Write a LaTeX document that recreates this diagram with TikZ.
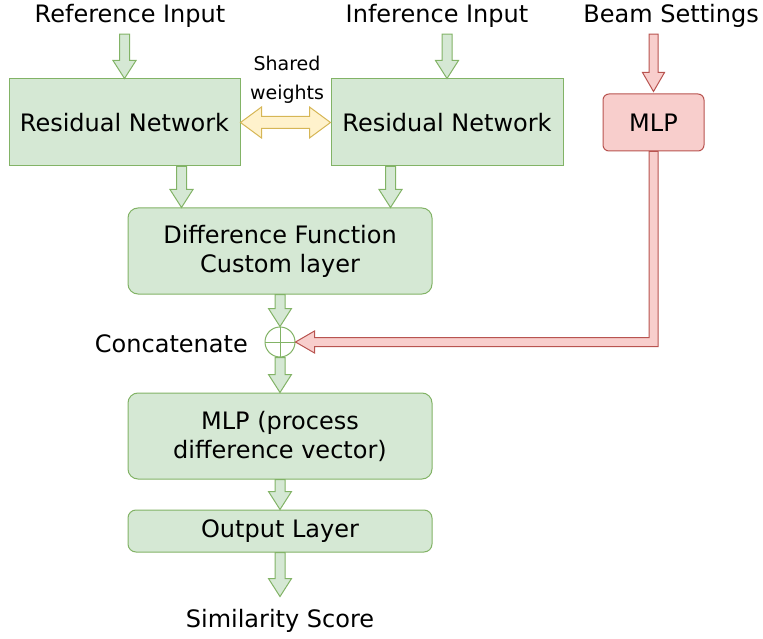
\documentclass[tikz,border=0pt]{standalone}
\usepackage{fontspec}
\setmainfont{DejaVu Sans}
\usetikzlibrary{calc}
\usetikzlibrary{positioning}
\definecolor{gfill}{HTML}{D5E8D4}
\definecolor{gline}{HTML}{82B366}
\definecolor{rfill}{HTML}{F8CECC}
\definecolor{rline}{HTML}{B85450}
\definecolor{yfill}{HTML}{FFF2CC}
\definecolor{yline}{HTML}{D6B656}
\tikzset{
  lbl/.style = {font = \fontsize{24}{29}\selectfont, align = center, inner sep = 0},
  gbox/.style = {lbl, draw = gline, fill = gfill, line width = 1pt},
  rbox/.style = {lbl, draw = rline, fill = rfill, line width = 1pt, rounded corners = 6pt},
  garrow/.style = {draw = gline, fill = gfill, line width = 1pt},
  rarrow/.style = {draw = rline, fill = rfill, line width = 1pt},
  yarrow/.style = {draw = yline, fill = yfill, line width = 1pt},
  down arrow/.style = {
    to path = {let \p1 = (\tikztostart), \p2 = (\tikztotarget) in
      (\x2-5pt,\y1) -- (\x2-5pt,\y2+18pt) -- (\x2-11.5pt,\y2+18pt) -- (\x2,\y2)
      -- (\x2+11.5pt,\y2+18pt) -- (\x2+5pt,\y2+18pt) -- (\x2+5pt,\y1) -- cycle}},
  both arrow/.style = {
    to path = {let \p1 = (\tikztostart), \p2 = (\tikztotarget) in
      (\x1,\y1) -- (\x1+21pt,\y1+15.5pt) -- (\x1+21pt,\y1+6pt) -- (\x2-21pt,\y1+6pt)
      -- (\x2-21pt,\y1+15.5pt) -- (\x2,\y1) -- (\x2-21pt,\y1-15.5pt) -- (\x2-21pt,\y1-6pt)
      -- (\x1+21pt,\y1-6pt) -- (\x1+21pt,\y1-15.5pt) -- cycle}},
  elbow arrow/.style = {
    to path = {let \p1 = (\tikztostart), \p2 = (\tikztotarget) in
      (\x1-4.5pt,\y1) -- (\x1-4.5pt,\y2+4.5pt) -- (\x2+19pt,\y2+4.5pt) -- (\x2+19pt,\y2+11pt)
      -- (\x2,\y2) -- (\x2+19pt,\y2-11pt) -- (\x2+19pt,\y2-4.5pt) -- (\x1+4.5pt,\y2-4.5pt)
      -- (\x1+4.5pt,\y1) -- cycle}},
  rdown arrow/.style = {
    to path = {let \p1 = (\tikztostart), \p2 = (\tikztotarget) in
      (\x2-4.5pt,\y1) -- (\x2-4.5pt,\y2+19pt) -- (\x2-11pt,\y2+19pt) -- (\x2,\y2)
      -- (\x2+11pt,\y2+19pt) -- (\x2+4.5pt,\y2+19pt) -- (\x2+4.5pt,\y1) -- cycle}}
}

\begin{document}
\begin{tikzpicture}[x = 1pt, y = -1pt]
  \useasboundingbox (0, 0) rectangle (763, 639);

  % inputs
  \node [lbl, anchor = base] (refin) at (130, 23) {Reference Input};
  \node [lbl, anchor = base] (infin) at (437, 23) {Inference Input};
  \node [lbl, anchor = base east] (beamin) at (759, 23) {Beam Settings};

  % twin networks
  \node [gbox, minimum width = 231pt, minimum height = 87pt] (res1) at (124.5, 122.5) {Residual Network};
  \node [gbox, minimum width = 232pt, minimum height = 87pt] (res2) at (447, 122.5) {Residual Network};
  \node [rbox, minimum width = 101pt, minimum height = 57pt] (mlp1) at (653.5, 122.5) {MLP};
  \node [lbl, font = \fontsize{19}{29}\selectfont] (shared) at (287, 80) {Shared\\weights};

  % main column
  \node [gbox, rounded corners = 10pt, minimum width = 304pt, minimum height = 86pt] (diff) at (280, 251)
    {Difference Function\\Custom layer};
  \node [circle, draw = gline, fill = white, line width = 1pt, minimum size = 30pt, inner sep = 0] (concat) at (280, 342) {};
  \node [lbl, anchor = base east] (catlbl) at (248, 352) {Concatenate};
  \node [gbox, rounded corners = 10pt, minimum width = 304pt, minimum height = 86pt] (mlp2) at (280, 436)
    {MLP (process\\difference vector)};
  \node [gbox, rounded corners = 8pt, minimum width = 304pt, minimum height = 42pt] (out) at (280, 531) {Output Layer};
  \node [lbl, anchor = base] (score) at (280, 627) {Similarity Score};

  \draw [gline, line width = 1pt] (concat.north) -- (concat.south) (concat.west) -- (concat.east);

  \coordinate (d1) at ([xshift = 54pt] diff.north west);
  \coordinate (d2) at ([xshift = 263pt] diff.north west);

  % connectors
  \draw [garrow] ([yshift = -6pt] refin.south -| res1.north) to [down arrow] (res1.north);
  \draw [garrow] ([yshift = -6pt] infin.south -| res2.north) to [down arrow] (res2.north);
  \draw [rarrow] ([yshift = -6pt] beamin.south -| mlp1.north) to [rdown arrow] ([yshift = 2pt] mlp1.north);
  \draw [yarrow] (res1.east) to [both arrow] (res2.west);
  \draw [garrow] (res1.south -| d1) to [down arrow] (d1);
  \draw [garrow] (res2.south -| d2) to [down arrow] (d2);
  \draw [garrow] (diff.south) to [down arrow] (concat.north);
  \draw [rarrow] (mlp1.south) to [elbow arrow] (concat.east);
  \draw [garrow] (concat.south) to [down arrow] (mlp2.north);
  \draw [garrow] (mlp2.south) to [down arrow] (out.north);
  \draw [garrow] (out.south) to [down arrow] ([yshift = 12pt] score.north);
\end{tikzpicture}
\end{document}
